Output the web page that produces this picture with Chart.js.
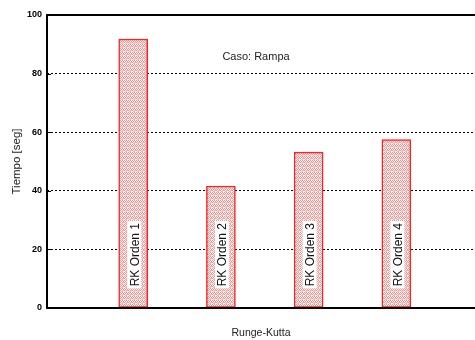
<!DOCTYPE html>
<html>
<head>
<meta charset="utf-8">
<script src="https://cdn.jsdelivr.net/npm/chart.js@4"></script>
<style>
  html, body { margin: 0; padding: 0; background: #fff; }
  #wrap { width: 475px; height: 340px; }
</style>
</head>
<body>
<div id="wrap"><canvas id="myChart"></canvas></div>
<script>
// RK method order and run time in seconds
var labels = ["RK Orden 1", "RK Orden 2", "RK Orden 3", "RK Orden 4"];
var positions = [1, 2, 3, 4];
var tiempos = [91.8, 41.6, 53.2, 57.5];
var yTicks = [0, 20, 40, 60, 80, 100];
var caseText = "Caso: Rampa";

// small red cross hatch used to fill the bars
function hatch() {
  var c = document.createElement("canvas");
  c.width = 4; c.height = 4;
  var g = c.getContext("2d");
  g.fillStyle = "#ffffff";
  g.fillRect(0, 0, 4, 4);
  g.fillStyle = "rgba(255,60,60,0.6)";
  g.fillRect(0, 0, 1, 1); g.fillRect(2, 0, 1, 1);
  g.fillRect(1, 1, 1, 1); g.fillRect(3, 1, 1, 1);
  g.fillRect(0, 2, 1, 1);
  g.fillStyle = "rgba(255,120,120,0.6)";
  g.fillRect(2, 2, 2, 1); g.fillRect(1, 3, 2, 1);
  return g.createPattern(c, "repeat");
}

var points = [];
for (var i = 0; i < positions.length; i++) {
  points.push({x: positions[i], y: tiempos[i]});
}

// frame lines, caption and the rotated labels inside the bars
var extras = {
  id: "extras",
  afterDatasetsDraw: function(chart) {
    var ctx = chart.ctx;
    var a = chart.chartArea;
    var xs = chart.scales.x, ys = chart.scales.y;
    ctx.save();
    ctx.strokeStyle = "#000";
    ctx.lineWidth = 2;
    ctx.beginPath();
    ctx.moveTo(a.left, a.top); ctx.lineTo(a.right, a.top);
    ctx.moveTo(a.left, a.top - 1); ctx.lineTo(a.left, a.bottom + 1);
    ctx.moveTo(a.left, a.bottom); ctx.lineTo(a.right, a.bottom);
    ctx.stroke();
    // short inward tick marks
    ctx.lineWidth = 1;
    ctx.beginPath();
    for (var t = 1; t < yTicks.length - 1; t++) {
      var ty = Math.round(ys.getPixelForValue(yTicks[t])) + 0.5;
      ctx.moveTo(a.left, ty); ctx.lineTo(a.left + 4, ty);
    }
    ctx.stroke();

    ctx.fillStyle = "#222";
    ctx.font = "11px 'Liberation Sans', Arial, sans-serif";
    ctx.textAlign = "center";
    ctx.textBaseline = "middle";
    ctx.fillText(caseText, xs.getPixelForValue(2.4), ys.getPixelForValue(85.7));

    ctx.font = "12px 'Liberation Sans', Arial, sans-serif";
    ctx.textAlign = "left";
    for (var i = 0; i < labels.length; i++) {
      var px = xs.getPixelForValue(positions[i]) + 2;
      var py = ys.getPixelForValue(7.4);
      var w = ctx.measureText(labels[i]).width;
      ctx.save();
      ctx.translate(px, py);
      ctx.rotate(-Math.PI / 2);
      ctx.fillStyle = "#fff";
      ctx.fillRect(-2, -8, w + 4, 14);
      ctx.fillStyle = "#111";
      ctx.fillText(labels[i], 0, 0);
      ctx.restore();
    }
    ctx.restore();
  }
};

new Chart("myChart", {
  type: "bar",
  data: {
    datasets: [{
      data: points,
      backgroundColor: hatch(),
      borderColor: "#ff2020",
      borderWidth: 1.5,
      borderSkipped: false,
      barThickness: 29
    }]
  },
  options: {
    responsive: true,
    maintainAspectRatio: false,
    animation: false,
    layout: { padding: { top: 15, right: 0, bottom: 0, left: 0 } },
    plugins: { legend: { display: false }, tooltip: { enabled: false } },
    scales: {
      x: {
        type: "linear",
        offset: false,
        min: 0.017,
        max: 4.897,
        grid: { display: false },
        border: { display: false },
        ticks: { display: false },
        title: {
          display: true,
          text: "Runge-Kutta",
          color: "#222",
          font: { family: "'Liberation Sans', Arial, sans-serif", size: 10.5 },
          padding: { top: 0, bottom: 1 }
        },
        afterFit: function(s) { s.height = 32; }
      },
      y: {
        min: 0,
        max: 100,
        afterBuildTicks: function(s) {
          s.ticks = yTicks.map(function(v) { return {value: v}; });
        },
        grid: {
          color: function(c) {
            var v = c.tick ? c.tick.value : 0;
            return (v === 0 || v === 100) ? "rgba(0,0,0,0)" : "#000";
          },
          lineWidth: 1,
          drawTicks: false
        },
        border: { display: false, dash: [2, 2] },
        ticks: {
          color: "#000",
          padding: 5,
          font: { family: "'Liberation Sans', Arial, sans-serif", size: 9, weight: "bold" }
        },
        title: {
          display: true,
          text: "Tiempo [seg]",
          color: "#222",
          font: { family: "'Liberation Sans', Arial, sans-serif", size: 11.5 },
          padding: { top: 10, bottom: 0 }
        },
        afterFit: function(s) { s.width = 47; }
      }
    }
  },
  plugins: [extras]
});
</script>
</body>
</html>
